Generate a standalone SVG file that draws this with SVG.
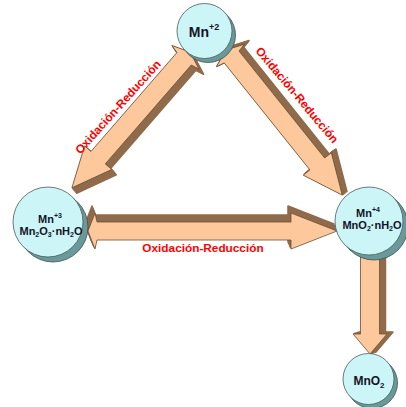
<svg xmlns="http://www.w3.org/2000/svg" xmlns:xlink="http://www.w3.org/1999/xlink" width="406" height="407" viewBox="0 0 406 407">
<style>
.side{fill:#8f6b4b;stroke:#8f6b4b;stroke-width:1.5;stroke-linejoin:round}
.face{fill:#fdc99c;stroke:#6b4f36;stroke-width:0.8;stroke-linejoin:miter}
.shd{fill:#6b9999;stroke:#3c5050;stroke-width:0.8}
.ball{fill:#ccf5f7;stroke:#4a5a5a;stroke-width:0.8}
.nt{font-family:"Liberation Sans",Arial,sans-serif;font-weight:bold;fill:#141428;text-anchor:middle}
.lbl{font-family:"Liberation Sans",Arial,sans-serif;font-weight:bold;font-size:11.8px;fill:#ff0000;text-anchor:middle}
</style>
<defs>
<polygon id="pH" points="0,0 7,-18 9,-9 203,-9 203,-18 249,0 203,18 203,9 9,9 7,18"/>
<polygon id="pD1" points="0,0 7,-18 9,-9.5 140,-9.5 140,-18 180,0 140,18 140,9.5 9,9.5 7,18"/>
<polygon id="pD2" points="0,0 7,-18 9,-9.5 146,-9.5 146,-18 186,0 146,18 146,9.5 9,9.5 7,18"/>
<polygon id="pV" points="0,-9.5 80,-9.5 80,-17 100,0 80,17 80,9.5 0,9.5"/>
</defs>
<rect width="406" height="407" fill="#ffffff"/>
<g id="connectors">
<g id="arrow-left" transform="translate(190,52) rotate(131)">
<use xlink:href="#pD1" class="side" transform="translate(0.2,-1.4)"/>
<use xlink:href="#pD1" class="side" transform="translate(0.4,-2.8)"/>
<use xlink:href="#pD1" class="side" transform="translate(0.6,-4.2)"/>
<use xlink:href="#pD1" class="side" transform="translate(0.8,-5.6)"/>
<use xlink:href="#pD1" class="side" transform="translate(1,-7)"/>
<use xlink:href="#pD1" class="face"/>
</g>
<g id="arrow-right" transform="translate(226,50) rotate(51.3)">
<use xlink:href="#pD2" class="side" transform="translate(0,-1.2)"/>
<use xlink:href="#pD2" class="side" transform="translate(0,-2.4)"/>
<use xlink:href="#pD2" class="side" transform="translate(0,-3.6)"/>
<use xlink:href="#pD2" class="side" transform="translate(0,-4.8)"/>
<use xlink:href="#pD2" class="side" transform="translate(0,-6)"/>
<use xlink:href="#pD2" class="face"/>
</g>
<g id="arrow-bottom" transform="translate(88,231)">
<use xlink:href="#pH" class="side" transform="translate(-0.6,-1.4)"/>
<use xlink:href="#pH" class="side" transform="translate(-1.2,-2.8)"/>
<use xlink:href="#pH" class="side" transform="translate(-1.8,-4.2)"/>
<use xlink:href="#pH" class="side" transform="translate(-2.4,-5.6)"/>
<use xlink:href="#pH" class="side" transform="translate(-3,-7)"/>
<use xlink:href="#pH" class="face"/>
</g>
<g id="arrow-down" transform="translate(370,254) rotate(90)">
<use xlink:href="#pV" class="side" transform="translate(-0.4,-1.2)"/>
<use xlink:href="#pV" class="side" transform="translate(-0.8,-2.4)"/>
<use xlink:href="#pV" class="side" transform="translate(-1.2,-3.6)"/>
<use xlink:href="#pV" class="side" transform="translate(-1.6,-4.8)"/>
<use xlink:href="#pV" class="side" transform="translate(-2,-6)"/>
<use xlink:href="#pV" class="face"/>
</g>
<text class="lbl" transform="translate(118,107) rotate(-48)" y="4">Oxidación-Reducción</text>
<text class="lbl" transform="translate(297,95) rotate(50)" y="4">Oxidación-Reducción</text>
<text class="lbl" x="203" y="252">Oxidación-Reducción</text>
</g>
<g id="node-mn2">
<circle class="shd" cx="208" cy="35" r="27.5"/>
<circle class="ball" cx="204.5" cy="31" r="27.5"/>
<text class="nt" x="204" y="37" font-size="14">Mn<tspan font-size="9" dy="-7">+2</tspan></text>
</g>
<g id="node-mn3">
<circle class="shd" cx="53" cy="227" r="35"/>
<circle class="ball" cx="48" cy="222" r="35"/>
<text class="nt" x="50" y="223" font-size="11">Mn<tspan font-size="7" dy="-5">+3</tspan></text>
<text class="nt" x="51" y="235" font-size="11">Mn<tspan font-size="7" dy="2">2</tspan><tspan dy="-2">O</tspan><tspan font-size="7" dy="2">3</tspan><tspan dy="-2">·nH</tspan><tspan font-size="7" dy="2">2</tspan><tspan dy="-2">O</tspan></text>
</g>
<g id="node-mn4">
<circle class="shd" cx="374" cy="226" r="34"/>
<circle class="ball" cx="369" cy="221" r="34"/>
<text class="nt" x="368" y="217" font-size="11">Mn<tspan font-size="7" dy="-5">+4</tspan></text>
<text class="nt" x="372" y="229" font-size="11">MnO<tspan font-size="7" dy="2">2</tspan><tspan dy="-2">·nH</tspan><tspan font-size="7" dy="2">2</tspan><tspan dy="-2">O</tspan></text>
</g>
<g id="node-mno2">
<circle class="shd" cx="372" cy="383" r="25.5"/>
<circle class="ball" cx="368.5" cy="379" r="25.5"/>
<text class="nt" x="369" y="385" font-size="12">MnO<tspan font-size="8" dy="3">2</tspan></text>
</g>
</svg>
